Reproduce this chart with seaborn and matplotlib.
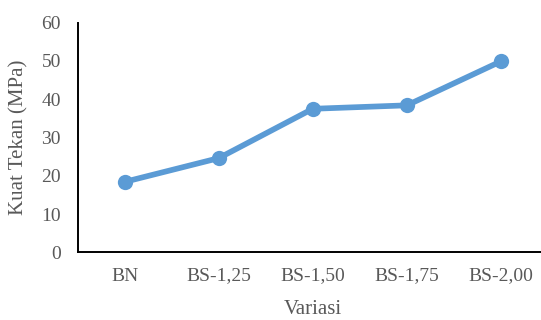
import matplotlib
matplotlib.use("Agg")
import matplotlib.pyplot as plt
import seaborn as sns
import pandas as pd

# Data
variasi = ["BN", "BS-1,25", "BS-1,50", "BS-1,75", "BS-2,00"]
kuat_tekan = [18.4, 24.6, 37.5, 38.4, 49.9]
y_ticks = [0, 10, 20, 30, 40, 50, 60]

df = pd.DataFrame({"Variasi": variasi, "Kuat Tekan (MPa)": kuat_tekan})

sns.set_style("white")
plt.rcParams["font.family"] = ["Liberation Serif", "DejaVu Serif"]

text_color = "#595959"
line_color = "#5B9BD5"

fig = plt.figure(figsize=(5.41, 3.2), dpi=100)
ax = fig.add_axes([0.1434, 0.2116, 0.8695, 0.7175])

sns.lineplot(data=df, x="Variasi", y="Kuat Tekan (MPa)", sort=False, ax=ax,
             color=line_color, linewidth=4.1, marker="o", markersize=11,
             markeredgewidth=0)

ax.set_xlim(-0.5, len(variasi) - 0.5)
ax.set_ylim(0, 60)
ax.set_yticks(y_ticks)

# Excel style axes: only left and bottom lines, no ticks
for side in ["top", "right"]:
    ax.spines[side].set_visible(False)
for side in ["left", "bottom"]:
    ax.spines[side].set_color("black")
    ax.spines[side].set_linewidth(1.4)
ax.tick_params(axis="both", length=0, labelsize=14, labelcolor=text_color)
ax.tick_params(axis="y", pad=12)
ax.tick_params(axis="x", pad=11)

ax.set_ylabel("Kuat Tekan (MPa)", fontsize=15, color=text_color, va="center")
ax.set_xlabel("Variasi", fontsize=15, color=text_color, va="center")
ax.yaxis.set_label_coords(-0.1246, 0.5)
ax.xaxis.set_label_coords(0.5, -0.2513)

fig.savefig("out.png", dpi=100)
